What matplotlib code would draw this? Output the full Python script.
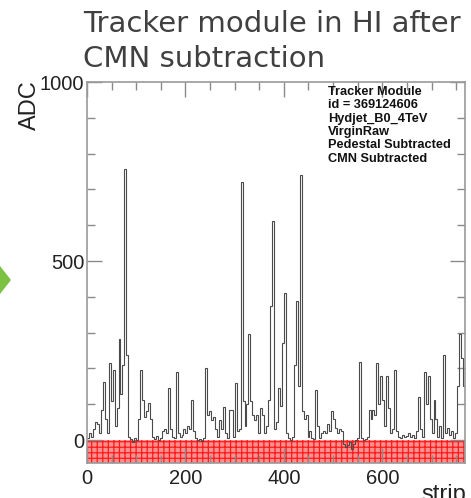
import matplotlib
matplotlib.use("Agg")
import matplotlib.pyplot as plt
import numpy as np
from matplotlib.patches import Rectangle, Polygon
from matplotlib.ticker import MultipleLocator

# ── data: ADC per group of 4 strips (768 strips → 192 groups) ──────────────
N_STRIPS = 768
STRIPS_PER_BIN = 4

adc = [
    5, 20, 10, 30, 50, 45, 20, 84, 163, 60,            # 0-9
    20, 216, 110, 197, 40, 90, 281, 130, 210, 758,      # 10-19
    238, 10, 2, -5, 5, 0, 60, 197, 112, 65,             # 20-29
    80, 103, 60, 10, 3, 12, 0, 5, 25, 30,               # 30-39
    20, 146, 30, 10, 5, 191, 20, 8, 15, 30,             # 40-49
    20, 40, 30, 112, 25, 5, 0, 3, -2, 5,                # 50-59
    202, 70, 80, 55, 65, 30, 10, 55, 30, 93,            # 60-69
    20, 5, 84, 84, 10, 160, 25, 30, 722, 110,           # 70-79
    40, 100, 295, 110, 70, 55, 70, 20, 90, 70,          # 80-89
    20, 40, 112, 374, 612, 30, 50, 146, 95, 272,        # 90-99
    412, 20, 5, 0, 8, 210, 388, 150, 740, 80,           # 100-109
    60, 70, 10, 25, 5, 3, 140, 40, 5, 20,               # 110-119
    25, 20, 45, 25, 80, 60, 35, 20, 30, 25,             # 120-129
    -10, -20, -15, -5, -25, -10, 0, 5, 219, 5,          # 130-139
    0, 3, 10, 84, 60, 84, 70, 216, 100, 178,            # 140-149
    112, 40, 178, 90, 20, 30, 197, 25, 10, 5,           # 150-159
    15, 8, 12, 20, 10, 15, 5, 25, 121, 30,              # 160-169
    10, 191, 100, 178, 60, 20, 112, 60, 10, 40,         # 170-179
    5, 238, 20, 35, 15, 25, 5, 20, 150, 295,            # 180-189
    230, 150,                                           # 190-191
]

stats_lines = [
    "Tracker Module",
    "id = 369124606",
    "Hydjet_B0_4TeV",
    "VirginRaw",
    "Pedestal Subtracted",
    "CMN Subtracted",
]

# ── figure ─────────────────────────────────────────────────────────────────
W, H = 471, 498
fig = plt.figure(figsize=(W / 100, H / 100), dpi=100)
fig.patch.set_facecolor("white")

ax = fig.add_axes([87 / W, 1 - 463 / H, (465 - 87) / W, (463 - 82) / H])
ax.set_xlim(0, N_STRIPS)
ax.set_ylim(-64, 1000)

edges = np.arange(0, N_STRIPS + 1, STRIPS_PER_BIN)

# red error band under zero
plt.rcParams["hatch.linewidth"] = 0.9
plt.rcParams["hatch.color"] = "#ff1a1a"
band = Rectangle((0, -64), N_STRIPS, 64, facecolor="#ff9090",
                 edgecolor="#ff1a1a", hatch="+++", linewidth=0, zorder=1)
ax.add_patch(band)

ax.stairs(adc, edges, baseline=None, color="#4a4a4a", linewidth=0.8, zorder=2)

# ROOT-like frame
for sp in ax.spines.values():
    sp.set_color("#9a9a9a")
    sp.set_linewidth(1.2)

ax.xaxis.set_major_locator(MultipleLocator(200))
ax.xaxis.set_minor_locator(MultipleLocator(50))
ax.yaxis.set_major_locator(MultipleLocator(500))
ax.yaxis.set_minor_locator(MultipleLocator(100))
ax.tick_params(which="both", direction="in", top=True, right=True,
               color="#8a8a8a", width=1.0)
ax.tick_params(which="major", length=11)
ax.tick_params(which="minor", length=6)
ax.tick_params(labelsize=14.5, labelcolor="#222222", pad=2)
ax.tick_params(axis="x", pad=4)
for lab in ax.get_xticklabels() + ax.get_yticklabels():
    lab.set_family("Liberation Sans")

ax.text(0.638, 0.99, "\n".join(stats_lines), transform=ax.transAxes,
        ha="left", va="top", fontsize=9.2, fontweight="bold",
        family="Liberation Sans", linespacing=1.15, color="#111111")

# axis titles
fig.text(30 / W, 1 - 105 / H, "ADC", rotation=90, ha="center", va="center",
         fontsize=17, family="Liberation Sans", color="#222222")
fig.text(466 / W, 1 - 484 / H, "strip", ha="right", va="top",
         fontsize=17, family="Liberation Sans", color="#222222")

# slide title
fig.text(83 / W, 1 - 32 / H, "Tracker module in HI after", ha="left",
         va="baseline", fontsize=21, family="DejaVu Sans", color="#404040")
fig.text(83 / W, 1 - 67 / H, "CMN subtraction", ha="left",
         va="baseline", fontsize=21, family="DejaVu Sans", color="#404040")

# green bullet arrow at the left edge
fig.add_artist(Polygon([(0, 1 - 266 / H), (11 / W, 1 - 280 / H), (0, 1 - 294 / H)],
                       closed=True, transform=fig.transFigure,
                       facecolor="#7cc142", edgecolor="none"))

fig.savefig("out.png", dpi=100)
